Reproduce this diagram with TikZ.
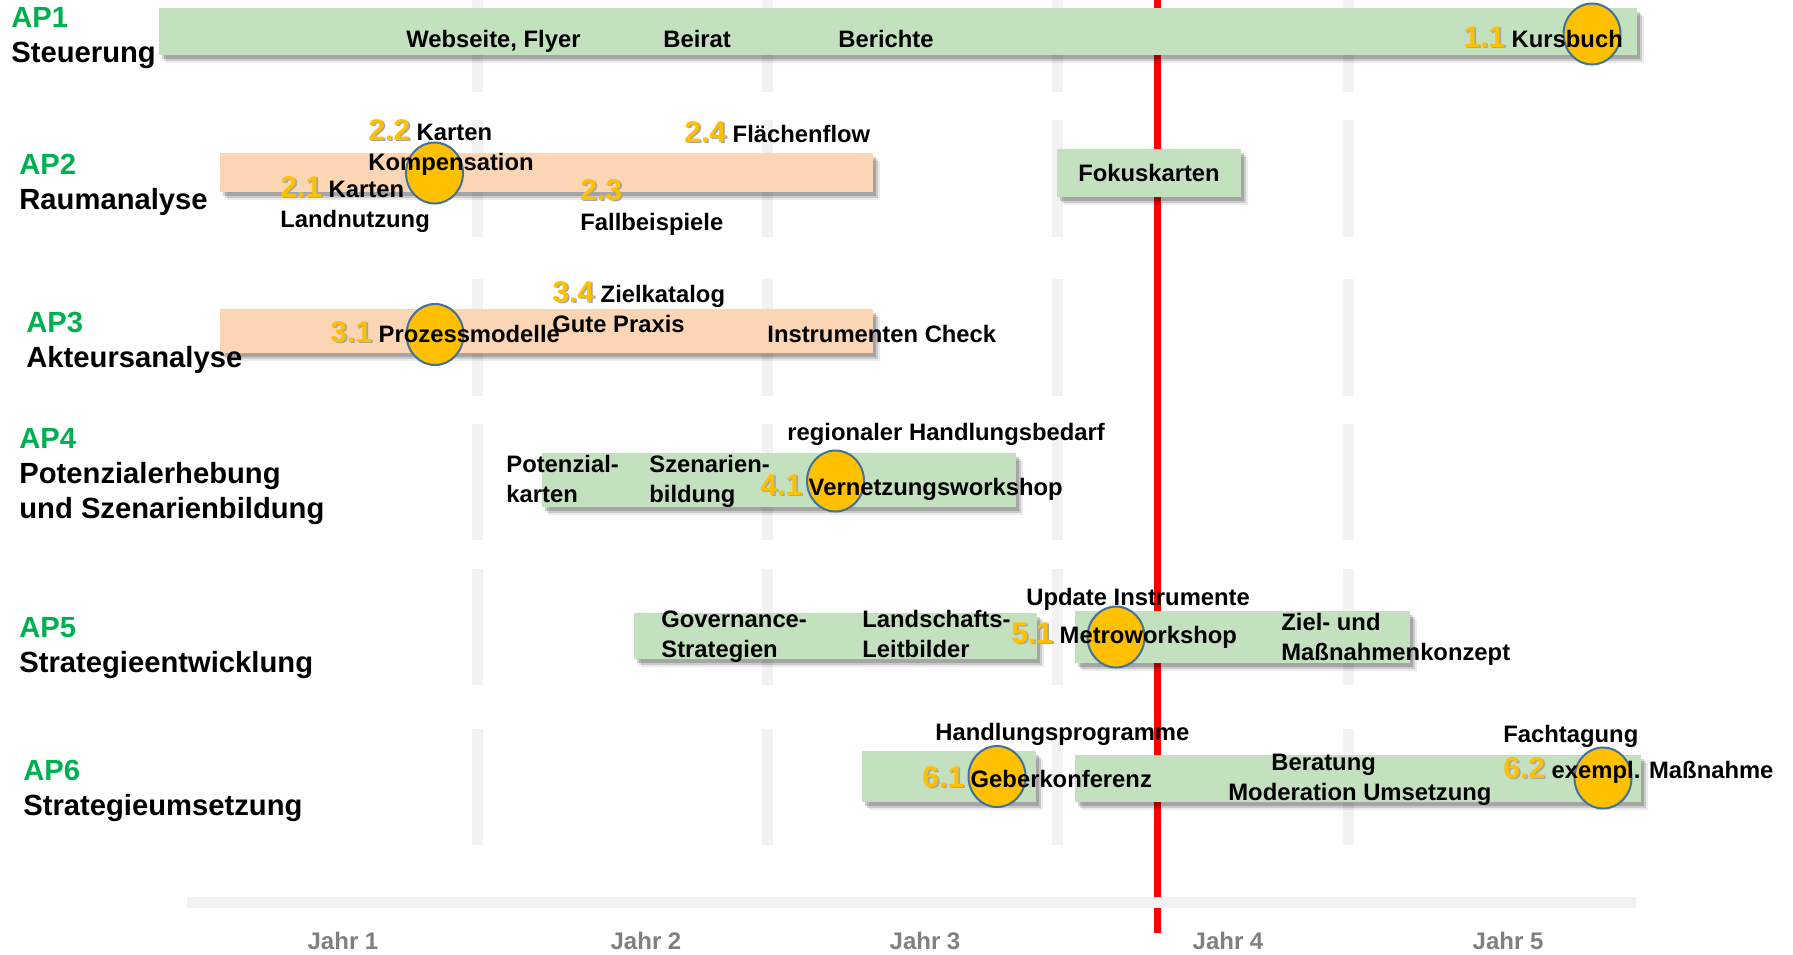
\documentclass[tikz,border=0pt]{standalone}
\usepackage{fontspec}
\setmainfont{Liberation Sans}
\usetikzlibrary{shapes.geometric,shadows}
\definecolor{apgreen}{RGB}{0,176,80}
\definecolor{mint}{RGB}{195,225,190}
\definecolor{peach}{RGB}{252,213,181}
\definecolor{gold}{RGB}{255,192,0}
\definecolor{rim}{RGB}{65,113,156}
\definecolor{gridgray}{RGB}{242,242,242}
\definecolor{yeargray}{RGB}{128,128,128}
\newcommand\nr[1]{{\fontsize{15}{15}\selectfont\rlap{\kern0.8pt\raisebox{-0.8pt}{\color{black!35}#1}}\color{gold}#1}}

\begin{document}
\begin{tikzpicture}[x=0.5pt,y=-0.5pt,
    bar/.style={fill=#1,
      drop shadow={shadow xshift=1.5pt,shadow yshift=-2pt,opacity=.18,fill=black},
      drop shadow={shadow xshift=2.5pt,shadow yshift=-3pt,opacity=.14,fill=black},
      drop shadow={shadow xshift=3.5pt,shadow yshift=-4pt,opacity=.08,fill=black}},
    mile/.style={ellipse,fill=gold,draw=rim,line width=1pt,minimum width=28.5pt,minimum height=30.5pt,inner sep=0pt},
    txt/.style={anchor=base west,inner sep=0pt,align=left,font=\fontsize{11.9}{15}\selectfont\bfseries},
    ap/.style={anchor=base west,inner sep=0pt,align=left,font=\fontsize{14.6}{17.5}\selectfont\bfseries},
    year/.style={anchor=base,inner sep=0pt,text=yeargray,font=\fontsize{12}{12}\selectfont\bfseries}]
  \useasboundingbox (0,0) rectangle (1793,954);

  % grid
  \foreach \gx in {477,767,1057,1348}
    \foreach \ya/\yb in {0/92,120/237,279/396,424/540,569/685,729/845}
      \fill[gridgray] (\gx-5.5,\ya) rectangle (\gx+5.5,\yb);

  % today
  \draw[red,line width=3.5pt] (1157,0) -- (1157,933);
  \fill[gridgray] (187,897) rectangle (1636,908);

  % bars
  \path[bar=mint] (159,8) rectangle (1637,55);
  \path[bar=peach] (220,153) rectangle (873,192);
  \path[bar=peach] (220,309) rectangle (873,353);
  \path[bar=mint] (542,453) rectangle (1016,507);
  \path[bar=mint] (634,613) rectangle (1037,659);
  \path[bar=mint] (1075,611) rectangle (1410,663);
  \path[bar=mint] (862,751) rectangle (1036,802);
  \path[bar=mint] (1075,755) rectangle (1641,802);
  \node[bar=mint,minimum width=92pt,minimum height=24pt,inner sep=0pt,font=\fontsize{11.9}{15}\selectfont\bfseries]
    (fokus) at (1149,173) {Fokuskarten};

  % milestones
  \node[mile] (m11) at (1592,34) {};
  \node[mile] (m22) at (434.5,173) {};
  \node[mile] (m31) at (435,334.5) {};
  \node[mile] (m41) at (835.5,481) {};
  \node[mile] (m51) at (1116,637) {};
  \node[mile] (m61) at (997,776.5) {};
  \node[mile] (m62) at (1603,778) {};

  % work packages (anchored at the last line)
  \node[ap] (ap1) at (11,62) {\textcolor{apgreen}{AP1}\\Steuerung};
  \node[ap] (ap2) at (19,209) {\textcolor{apgreen}{AP2}\\Raumanalyse};
  \node[ap] (ap3) at (26,367) {\textcolor{apgreen}{AP3}\\Akteursanalyse};
  \node[ap] (ap4) at (19,518) {\textcolor{apgreen}{AP4}\\Potenzialerhebung\\und Szenarienbildung};
  \node[ap] (ap5) at (19,672) {\textcolor{apgreen}{AP5}\\Strategieentwicklung};
  \node[ap] (ap6) at (23,815) {\textcolor{apgreen}{AP6}\\Strategieumsetzung};

  % AP1
  \node[txt] (web) at (406,47) {Webseite, Flyer};
  \node[txt] (beirat) at (663,47) {Beirat};
  \node[txt] (berichte) at (838,47) {Berichte};
  \node[txt] (kursbuch) at (1463,47) {\nr{1.1} Kursbuch};

  % AP2
  \node[txt] (komp) at (368,170) {\nr{2.2} Karten\\Kompensation};
  \node[txt] (landn) at (280,227) {\nr{2.1} Karten\\Landnutzung};
  \node[txt] (fall) at (580,230) {\nr{2.3}\\Fallbeispiele};
  \node[txt] (flow) at (684,142) {\nr{2.4} Flächenflow};

  % AP3
  \node[txt] (prozess) at (330,342) {\nr{3.1} Prozessmodelle};
  \node[txt] (ziel) at (552,332) {\nr{3.4} Zielkatalog\\Gute Praxis};
  \node[txt] (check) at (767,342) {Instrumenten Check};

  % AP4
  \node[txt] (potkarten) at (506,502) {Potenzial-\\karten};
  \node[txt] (szen) at (649,502) {Szenarien-\\bildung};
  \node[txt] (vernetz) at (760,495) {\nr{4.1} Vernetzungsworkshop};
  \node[txt] (bedarf) at (787,440) {regionaler Handlungsbedarf};

  % AP5
  \node[txt] (gov) at (661,657) {Governance-\\Strategien};
  \node[txt] (leit) at (862,657) {Landschafts-\\Leitbilder};
  \node[txt] (metro) at (1011,643) {\nr{5.1} Metroworkshop};
  \node[txt] (update) at (1026,605) {Update Instrumente};
  \node[txt] (konzept) at (1281,660) {Ziel- und\\Maßnahmenkonzept};

  % AP6
  \node[txt] (geber) at (922,787) {\nr{6.1} Geberkonferenz};
  \node[txt] (hprog) at (935,740) {Handlungsprogramme};
  \node[txt] (beratung) at (1271,770) {Beratung};
  \node[txt] (moder) at (1228,800) {Moderation Umsetzung};
  \node[txt] (massn) at (1503,778) {\nr{6.2} exempl. Maßnahme};
  \node[txt] (fachtag) at (1503,742) {Fachtagung};

  % years
  \foreach \yx [count=\i] in {343,646,925,1228,1508}
    \node[year] (jahr\i) at (\yx,949) {Jahr \i};
\end{tikzpicture}
\end{document}
